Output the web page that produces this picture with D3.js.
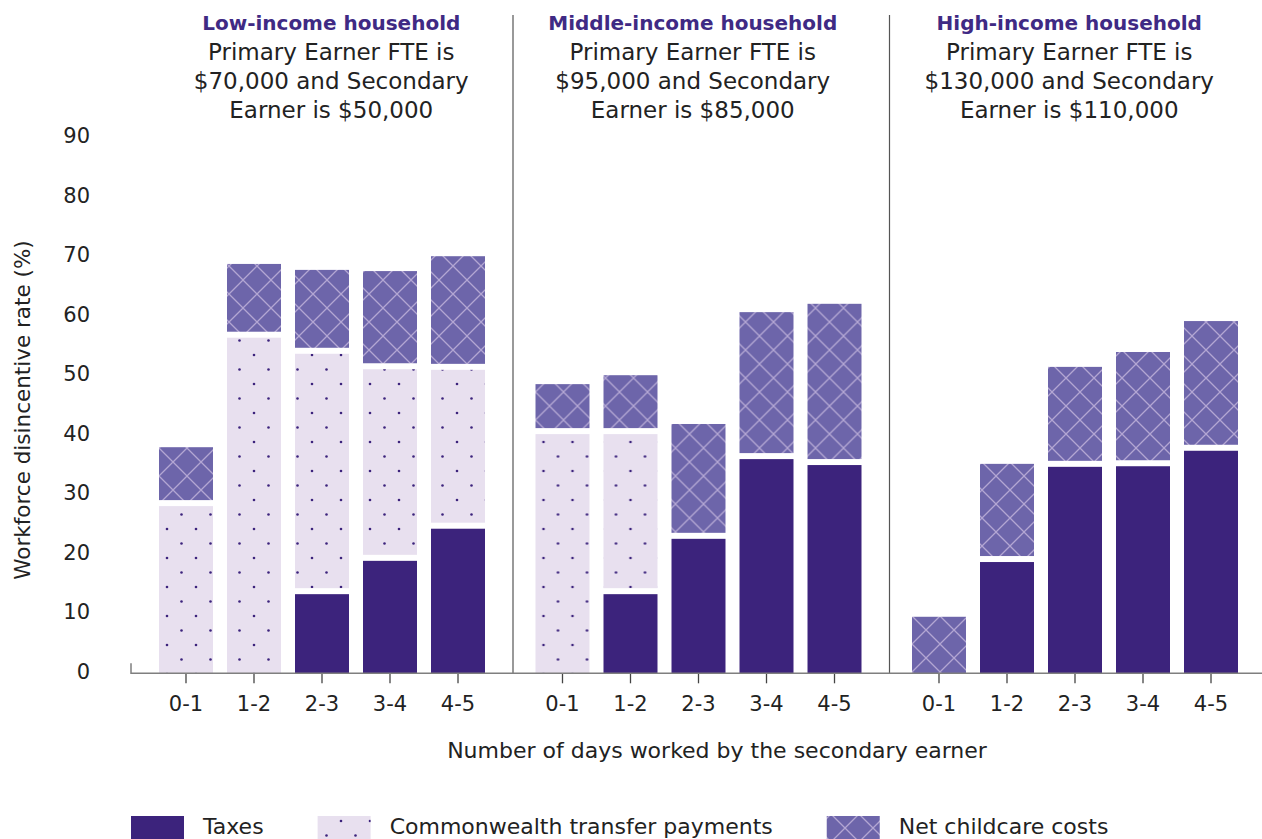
<!DOCTYPE html>
<html>
<head>
<meta charset="utf-8">
<script src="https://cdn.jsdelivr.net/npm/d3@7"></script>
<style>
  body { margin: 0; background: #fff; }
  text { font-family: "DejaVu Sans", sans-serif; fill: #222; }
</style>
</head>
<body>
<svg id="chart"></svg>
<script>
// household groups and their notes
const groups = ["Low-income household", "Middle-income household", "High-income household"];
const groupNotes = [
    ["Primary Earner FTE is", "$70,000 and Secondary", "Earner is $50,000"],
    ["Primary Earner FTE is", "$95,000 and Secondary", "Earner is $85,000"],
    ["Primary Earner FTE is", "$130,000 and Secondary", "Earner is $110,000"]
];
const days = ["0-1", "1-2", "2-3", "3-4", "4-5"];

// values per group, one entry per day band (%)
const taxes = [
    [0, 0, 13.3, 18.9, 24.3],
    [0, 13.3, 22.6, 36.0, 35.0],
    [0, 18.7, 34.7, 34.8, 37.4]
];
const transfers = [
    [28.1, 56.4, 40.4, 32.2, 26.7],
    [40.2, 26.9, 0, 0, 0],
    [0, 0, 0, 0, 0]
];
const childcare = [
    [9.9, 12.4, 14.1, 16.5, 19.1],
    [8.4, 9.9, 19.3, 24.7, 27.1],
    [9.5, 16.5, 16.8, 19.2, 21.8]
];
const yTicks = [0, 10, 20, 30, 40, 50, 60, 70, 80, 90];
const seriesNames = ["Taxes", "Commonwealth transfer payments", "Net childcare costs"];

const width = 1262, height = 839;
const svg = d3.select("#chart").attr("width", width).attr("height", height);

// patterns
const defs = svg.append("defs");
const dots = defs.append("pattern")
    .attr("id", "dots").attr("patternUnits", "userSpaceOnUse")
    .attr("width", 29).attr("height", 29);
dots.append("rect").attr("width", 29).attr("height", 29).attr("fill", "#e8e0ef");
[[7, 7], [21.5, 21.5]].forEach(p => {
    dots.append("circle").attr("cx", p[0]).attr("cy", p[1]).attr("r", 1.3).attr("fill", "#3c237c");
});
const hatch = defs.append("pattern")
    .attr("id", "hatch").attr("patternUnits", "userSpaceOnUse")
    .attr("width", 28).attr("height", 28);
hatch.append("rect").attr("width", 28).attr("height", 28).attr("fill", "#6d65aa");
hatch.append("path")
    .attr("d", "M-1,-1L29,29M-1,29L29,-1")
    .attr("stroke", "#b3a6d3").attr("stroke-width", 1.3);

const fills = ["#3c237c", "url(#dots)", "url(#hatch)"];

const y = d3.scaleLinear().domain([0, 90]).range([673.3, 137.8]);
const x0 = d3.scaleBand().domain(groups).range([131, 1260.5]);
const x1 = d3.scaleBand().domain(days).range([28, 354]).paddingInner(0.206);

// y axis labels
svg.append("g")
    .attr("transform", "translate(90,-2)")
    .call(d3.axisLeft(y).tickValues(yTicks).tickSize(0).tickPadding(0))
    .call(g => g.select(".domain").remove())
    .selectAll("text")
    .style("font-family", "DejaVu Sans").style("font-size", "21px").attr("fill", "#222");

svg.append("text")
    .attr("transform", "translate(30,410) rotate(-90)")
    .attr("text-anchor", "middle")
    .style("font-size", "21.5px")
    .text("Workforce disincentive rate (%)");

// separators
groups.slice(1).forEach(g => {
    svg.append("line")
        .attr("x1", x0(g) + 5.5).attr("x2", x0(g) + 5.5)
        .attr("y1", 15).attr("y2", y(0))
        .attr("stroke", "#555").attr("stroke-width", 1.2);
});

// bars
const gap = 6;
groups.forEach((g, gi) => {
    const gg = svg.append("g").attr("transform", `translate(${x0(g)},0)`);
    days.forEach((d, di) => {
        const vals = [taxes[gi][di], transfers[gi][di], childcare[gi][di]];
        let cum = 0;
        vals.forEach((v, si) => {
            if (v <= 0) return;
            const top = y(cum + v);
            const bottom = y(cum) - (cum > 0 ? gap : 0);
            gg.append("rect")
                .attr("x", x1(d)).attr("width", x1.bandwidth())
                .attr("y", top).attr("height", bottom - top)
                .attr("fill", fills[si]);
            cum += v;
        });
    });

    // x axis ticks and labels for this group
    gg.append("g")
        .attr("transform", `translate(0,${y(0)})`)
        .call(d3.axisBottom(x1).tickSize(10).tickPadding(13))
        .call(a => a.select(".domain").remove())
        .call(a => a.selectAll("line").attr("stroke", "#444").attr("stroke-width", 1.3))
        .selectAll("text")
        .style("font-family", "DejaVu Sans").style("font-size", "21px").attr("fill", "#222");

    // header
    const cx = x0(g) + x0.bandwidth() / 2 + (gi === 0 ? 12 : -3);
    svg.append("text")
        .attr("x", cx).attr("y", 30)
        .attr("text-anchor", "middle")
        .style("font-size", "20px").style("font-weight", "bold")
        .style("fill", "#3f2a84")
        .text(g);
    groupNotes[gi].forEach((line, li) => {
        svg.append("text")
            .attr("x", cx).attr("y", 59.5 + li * 29)
            .attr("text-anchor", "middle")
            .style("font-size", "23px")
            .text(line);
    });
});

// x axis line
svg.append("path")
    .attr("d", `M131,${y(0) - 10}V${y(0)}H1262`)
    .attr("fill", "none").attr("stroke", "#7f7f7f").attr("stroke-width", 1.5);

svg.append("text")
    .attr("x", 717).attr("y", 758)
    .attr("text-anchor", "middle")
    .style("font-size", "22px")
    .text("Number of days worked by the secondary earner");

// legend
const legend = svg.append("g").attr("transform", "translate(131,814)");
let lx = 0;
seriesNames.forEach((name, i) => {
    legend.append("rect")
        .attr("x", lx).attr("y", 2).attr("width", 53).attr("height", 30)
        .attr("fill", fills[i]);
    const t = legend.append("text")
        .attr("x", lx + 72).attr("y", 20)
        .style("font-size", "22px")
        .text(name);
    lx += 72 + t.node().getComputedTextLength() + 54;
});
</script>
</body>
</html>
